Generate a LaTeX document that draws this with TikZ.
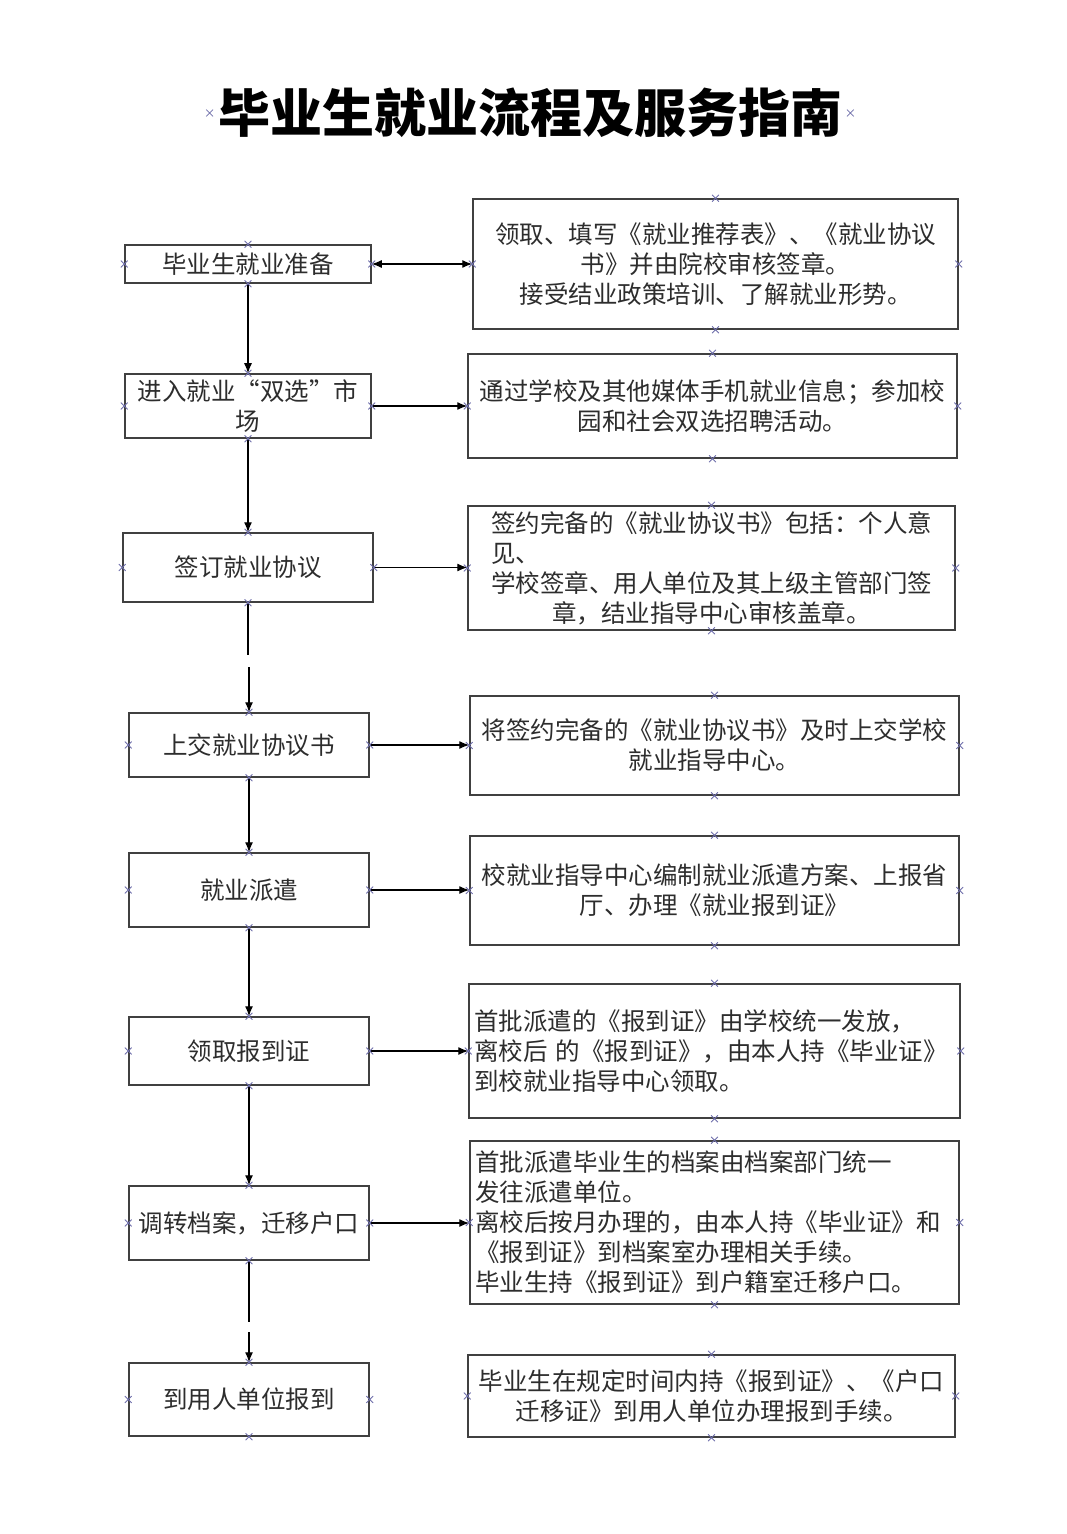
\documentclass[tikz,border=0pt]{standalone}
\usepackage{fontspec}
\usepackage{tikz}
\usetikzlibrary{arrows.meta,shapes.misc}
\setmainfont{Noto Sans CJK SC}
\definecolor{BoxLine}{RGB}{64,64,64}
\definecolor{BodyText}{RGB}{45,45,45}
\definecolor{PointMark}{RGB}{110,110,170}

\tikzset{
  stepbox/.style={draw=BoxLine,line width=0.75pt,inner sep=0pt,align=center,
    text=BodyText,font=\fontsize{12.25pt}{15pt}\selectfont},
  notebox/.style={stepbox,inner xsep=2.5pt},
  link/.style={draw=black,line width=0.6pt,->},
  cpoint/.style={cross out,draw=PointMark,line width=0.4pt,minimum size=3pt,inner sep=0pt},
}

\begin{document}
\begin{tikzpicture}[x=0.5pt,y=-0.5pt,>={Latex[length=5pt,width=4pt]}]
  \useasboundingbox[fill=white] (0,0) rectangle (1066,1534);

  % title
  \node[inner xsep=4pt,font=\fontsize{26pt}{30pt}\selectfont\bfseries] (title) at (530,113)
    {毕业生就业流程及服务指南};

  % left column: steps
  \node[stepbox,minimum width=123pt,minimum height=19pt] (L1) at (248,264) {毕业生就业准备};
  \node[stepbox,minimum width=123pt,minimum height=32pt] (L2) at (248,406) {进入就业“双选”市\\场};
  \node[stepbox,minimum width=125pt,minimum height=34.5pt] (L3) at (248,567.5) {签订就业协议};
  \node[stepbox,minimum width=120pt,minimum height=32pt] (L4) at (249,745) {上交就业协议书};
  \node[stepbox,minimum width=120pt,minimum height=37pt] (L5) at (249,890) {就业派遣};
  \node[stepbox,minimum width=120pt,minimum height=34pt] (L6) at (249,1051) {领取报到证};
  \node[stepbox,minimum width=120pt,minimum height=37pt] (L7) at (249,1223) {调转档案，迁移户口};
  \node[stepbox,minimum width=120pt,minimum height=36.5pt] (L8) at (249,1399.5) {到用人单位报到};

  % right column: notes
  \node[stepbox,minimum width=242.5pt,minimum height=65pt] (R1) at (715.5,264)
    {领取、填写《就业推荐表》、《就业协议\\书》并由院校审核签章。\\接受结业政策培训、了解就业形势。};
  \node[stepbox,minimum width=244.5pt,minimum height=52pt] (R2) at (712.5,406)
    {通过学校及其他媒体手机就业信息；参加校\\园和社会双选招聘活动。};
  \node[stepbox,minimum width=243.5pt,minimum height=62pt] (R3) at (711.5,568)
    {签约完备的《就业协议书》包括：个人意\\\makebox[18em][l]{见、}\\学校签章、用人单位及其上级主管部门签\\章，结业指导中心审核盖章。};
  \node[stepbox,minimum width=244.5pt,minimum height=49.5pt] (R4) at (714.5,745.5)
    {将签约完备的《就业协议书》及时上交学校\\就业指导中心。};
  \node[stepbox,minimum width=244.5pt,minimum height=54.5pt] (R5) at (714.5,890.5)
    {校就业指导中心编制就业派遣方案、上报省\\厅、办理《就业报到证》};
  \node[notebox,align=left,text width=240.5pt,minimum height=67pt] (R6) at (714.5,1051)
    {首批派遣的《报到证》由学校统一发放，\\离校后 的《报到证》，由本人持《毕业证》\\到校就业指导中心领取。};
  \node[notebox,align=left,text width=239.5pt,minimum height=81.5pt] (R7) at (714.5,1222.5)
    {首批派遣毕业生的档案由档案部门统一\\发往派遣单位。\\离校后按月办理的，由本人持《毕业证》和\\《报到证》到档案室办理相关手续。\\毕业生持《报到证》到户籍室迁移户口。};
  \node[stepbox,minimum width=243.5pt,minimum height=41pt] (R8) at (711.5,1396)
    {毕业生在规定时间内持《报到证》、《户口\\迁移证》到用人单位办理报到手续。};

  % breaks in the main line
  \coordinate (gapA) at (248,655);
  \coordinate (gapB) at (249,667);
  \coordinate (gapC) at (249,1322);
  \coordinate (gapD) at (249,1332);

  % main line
  \draw[link] (L1.south) -- (L2.north);
  \draw[link] (L2.south) -- (L3.north);
  \draw[link,-] (L3.south) -- (gapA);
  \draw[link] (gapB) -- (L4.north);
  \draw[link] (L4.south) -- (L5.north);
  \draw[link] (L5.south) -- (L6.north);
  \draw[link] (L6.south) -- (L7.north);
  \draw[link,-] (L7.south) -- (gapC);
  \draw[link] (gapD) -- (L8.north);

  % side links
  \draw[link,<->] (L1.east) -- (L1.east -| R1.west);
  \foreach \n in {2,...,7}
    \draw[link] (L\n.east) -- (L\n.east -| R\n.west);

  % connection points
  \foreach \n in {L1,L2,L3,L4,L5,L6,L7,L8,R1,R2,R3,R4,R5,R6,R7,R8}
    \foreach \a in {north,south,east,west}
      \node[cpoint] at (\n.\a) {};
  \node[cpoint] at (title.west) {};
  \node[cpoint] at (title.east) {};
\end{tikzpicture}
\end{document}
